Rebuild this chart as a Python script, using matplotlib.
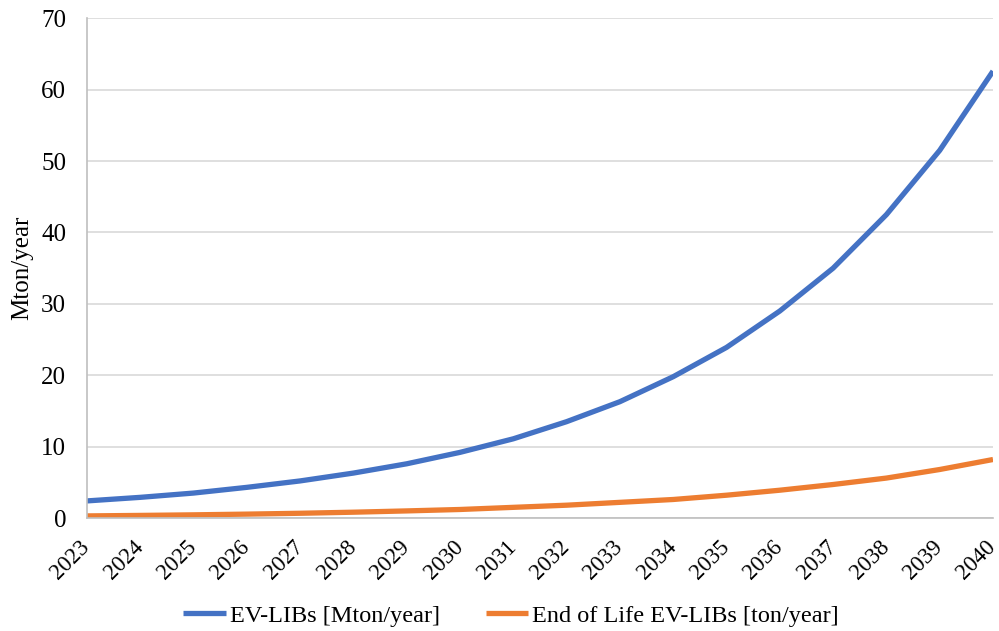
import numpy as np
import matplotlib.pyplot as plt

years = list(range(2023, 2041))
ev_libs = [2.4, 2.9, 3.5, 4.3, 5.2, 6.3, 7.6, 9.2, 11.1, 13.5,
           16.3, 19.8, 23.9, 29.0, 35.0, 42.5, 51.5, 62.6]
eol_libs = [0.3, 0.37, 0.45, 0.55, 0.67, 0.82, 1.0, 1.2, 1.5, 1.8,
            2.2, 2.6, 3.2, 3.9, 4.7, 5.6, 6.8, 8.2]
y_ticks = [0, 10, 20, 30, 40, 50, 60, 70]

plt.rcParams['font.family'] = ['Liberation Serif', 'DejaVu Serif']

fig = plt.figure(figsize=(9.99, 6.31), dpi=100)
ax = fig.add_axes([0.087, 0.179, 0.907, 0.792])

ax.plot(years, ev_libs, color='#4472C4', lw=3.8, label='EV-LIBs [Mton/year]',
        solid_capstyle='butt', solid_joinstyle='round')
ax.plot(years, eol_libs, color='#ED7D31', lw=3.8, label='End of Life EV-LIBs [ton/year]',
        solid_capstyle='butt', solid_joinstyle='round')

ax.set_xlim(2023, 2040)
ax.set_ylim(0, 70)
ax.set_yticks(y_ticks)
ax.set_xticks(years)
ax.set_xticklabels([])
# year labels placed by hand so they sit just left of each tick, like Excel
for y in years:
    ax.annotate(str(y), xy=(y, 0), xycoords=('data', 'axes fraction'),
                xytext=(-5.5, -13), textcoords='offset points',
                rotation=45, ha='right', va='top', rotation_mode='anchor',
                fontsize=16.5, annotation_clip=False)
ax.tick_params(axis='y', labelsize=18, length=0, pad=15)
ax.tick_params(axis='x', length=0)
ax.grid(axis='y', color='#d9d9d9', lw=1.2)
ax.set_axisbelow(True)
for s in ['top', 'right']:
    ax.spines[s].set_visible(False)
ax.spines['left'].set_color('#bfbfbf')
ax.spines['bottom'].set_color('#bfbfbf')
ax.spines['left'].set_linewidth(1.2)
ax.spines['bottom'].set_linewidth(1.2)
ax.set_ylabel('Mton/year', fontsize=18, labelpad=6)

fig.legend(loc='center', bbox_to_anchor=(0.5115, 0.024), ncol=2, frameon=False,
           fontsize=17.5, handlelength=1.75, handletextpad=0.15, columnspacing=1.9)

fig.savefig('out.png', dpi=100)
